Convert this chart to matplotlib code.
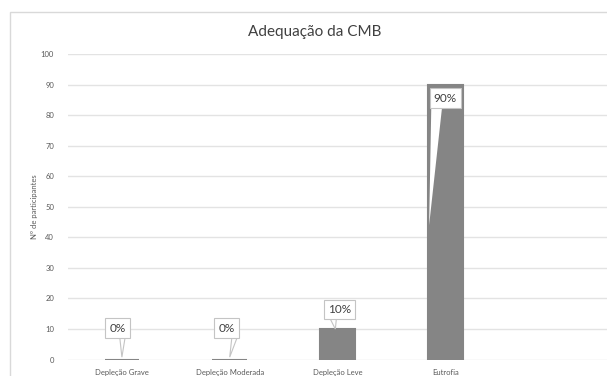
import matplotlib
matplotlib.use('Agg')
import matplotlib.pyplot as plt
from matplotlib.patches import Polygon, Rectangle

plt.rcParams['font.family'] = ['Lato', 'DejaVu Sans']

categorias = ['Depleção Grave', 'Depleção Moderada', 'Depleção Leve', 'Eutrofia']
participantes = [0, 0, 10, 90]
rotulos = ['0%', '0%', '10%', '90%']

# posição das caixas de rótulo (x, y) e ponta do indicador (x, y)
caixas = [(-0.04, 10.3), (0.97, 10.3), (2.02, 16.5), (3.0, 85.6)]
pontas = [(0.0, 0.8), (1.0, 0.8), (1.98, 10.0), (2.85, 44.0)]
bases = [(-0.02, 0.03), (1.02, 1.07), (1.93, 1.99), (2.87, 2.97)]

cinza = '#858585'

fig = plt.figure(figsize=(6.07, 3.76), dpi=100)
fig.patch.set_facecolor('white')
fig.add_artist(Rectangle((10 / 607, -0.1), 1.2, 1 - 12 / 376 + 0.1,
                         transform=fig.transFigure, fill=False,
                         edgecolor='#d9d9d9', linewidth=1))

ax = fig.add_axes([68 / 607, 16.4 / 376, 1 - 68 / 607, (322 - 16.4) / 376])
ax.set_facecolor('none')

x = list(range(len(categorias)))
ax.bar(x, participantes, width=0.32, color=cinza, edgecolor=cinza,
       linewidth=1.5, zorder=2)

for (bx, by), (px, py), (b0, b1), txt in zip(caixas, pontas, bases, rotulos):
    topo_base = by - 3.0
    if txt == '90%':
        ax.add_patch(Polygon([(b0, topo_base), (b1, topo_base), (px, py)],
                             closed=True, facecolor='white', edgecolor='none',
                             zorder=3))
    else:
        ax.add_patch(Polygon([(b0, topo_base), (b1, topo_base), (px, py)],
                             closed=True, facecolor='white',
                             edgecolor='#c4c4c4', linewidth=0.8, zorder=3))
    ax.text(bx, by, txt, ha='center', va='center', fontsize=8.5,
            color='#404040', zorder=4,
            bbox=dict(boxstyle='square,pad=0.35', facecolor='white',
                      edgecolor='#c4c4c4', linewidth=0.8))

ax.set_xlim(-0.5, 4.5)
ax.set_ylim(0, 100)
ax.set_yticks(range(0, 101, 10))
ax.set_xticks(x)
ax.set_xticklabels(categorias)
ax.tick_params(axis='both', length=0, labelsize=5.5, colors='#595959')
ax.tick_params(axis='x', pad=7)
ax.tick_params(axis='y', pad=10)
ax.grid(axis='y', color='#e3e3e3', linewidth=1, zorder=0)
ax.set_axisbelow(True)
for s in ax.spines.values():
    s.set_visible(False)

ax.set_ylabel('Nº de participantes', fontsize=5.5, color='#595959', labelpad=2)
fig.text(315 / 607, 1 - 32 / 376, 'Adequação da CMB', ha='center',
         va='center', fontsize=11, color='#404040')

fig.savefig('out.png', dpi=100)
